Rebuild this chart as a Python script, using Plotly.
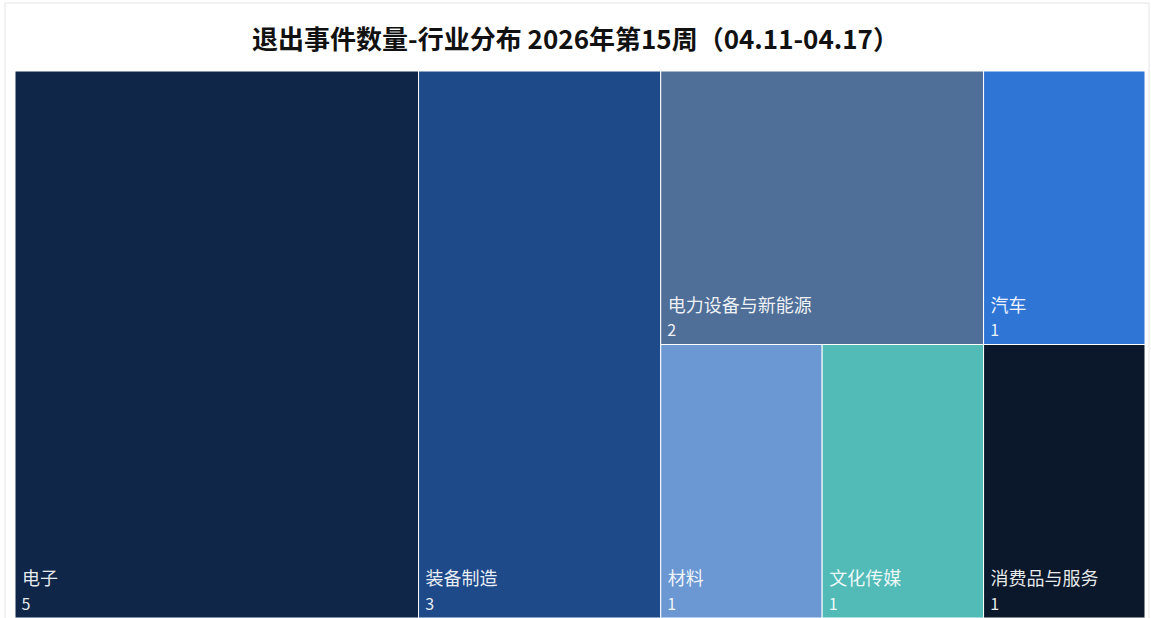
import plotly.graph_objects as go

categories = ["电子", "装备制造", "电力设备与新能源", "汽车", "材料", "文化传媒", "消费品与服务"]
values = [5, 3, 2, 1, 1, 1, 1]
colors = ["#0f2648", "#1e4a8a", "#506f98", "#2e75d6", "#6b98d3", "#52bbb8", "#0b182c"]
title_text = "退出事件数量-行业分布 2026年第15周（04.11-04.17）"

fig = go.Figure(go.Treemap(
    labels=categories,
    parents=[""] * len(categories),
    values=values,
    sort=True,
    tiling=dict(packing="binary", pad=0),
    marker=dict(colors=colors, line=dict(color="white", width=1), pad=dict(t=0, l=0, r=0, b=0)),
    texttemplate="<span style='font-size:18px'>&nbsp;%{label}</span><br><span style='font-size:16px'>&nbsp;%{value}</span>",
    textposition="bottom left",
    textfont=dict(family="Noto Sans CJK SC", size=19, color="rgba(255,255,255,0.92)"),
    pathbar=dict(visible=False),
    hoverinfo="label+value",
))

fig.update_layout(
    width=1151,
    height=618,
    margin=dict(l=15, r=6, t=71, b=0),
    paper_bgcolor="white",
    title=dict(
        text=title_text,
        x=0.5, xanchor="center",
        y=1 - 40 / 618, yanchor="middle",
        font=dict(family="Noto Sans CJK SC", size=26, color="#111111", weight="bold"),
    ),
    shapes=[dict(
        type="rect", xref="paper", yref="paper",
        x0=(5 - 15) / 1130, x1=(1149 - 15) / 1130,
        y0=-0.05, y1=(618 - 3) / 547,
        line=dict(color="#e4e4e4", width=1), fillcolor="rgba(0,0,0,0)",
        layer="below",
    )],
)

fig.write_html("out.html", config={"displayModeBar": False},
               post_script="document.body.style.margin='0';document.body.style.overflow='hidden';")
